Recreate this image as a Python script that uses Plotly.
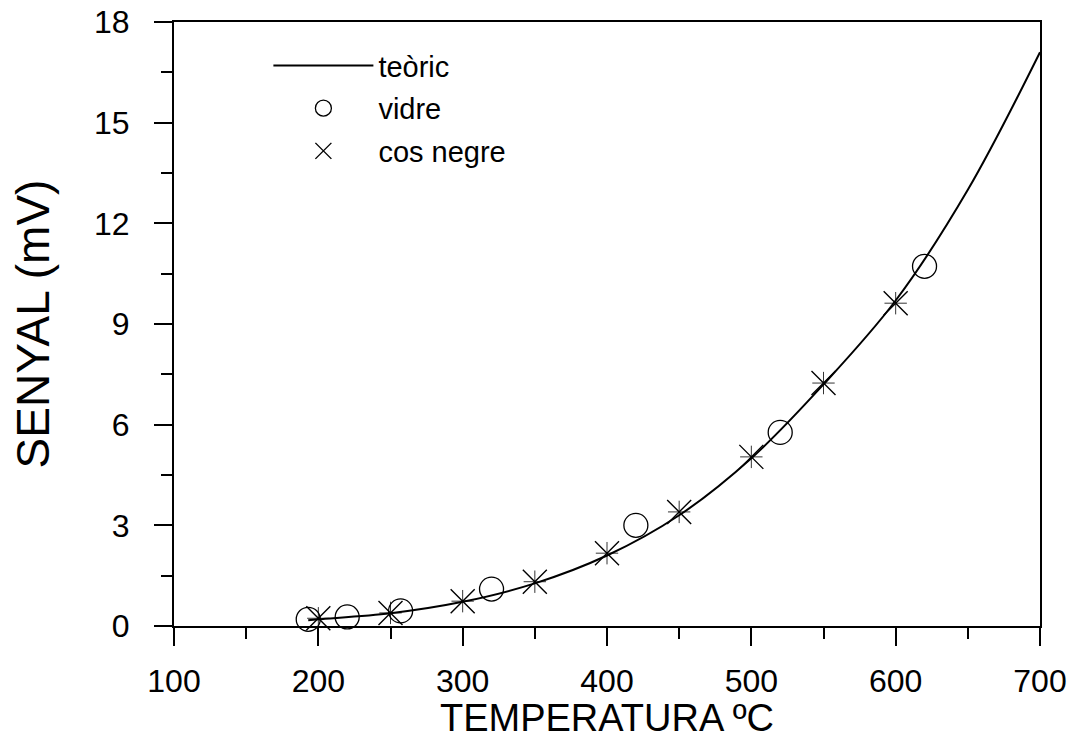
import plotly.graph_objects as go

# Theoretical curve
teoric_T = [193, 200, 250, 300, 350, 400, 450, 500, 550, 600, 650, 700]
teoric_V = [0.17, 0.2, 0.38, 0.72, 1.27, 2.1, 3.3, 5.0, 7.2, 9.7, 13.0, 17.1]

# Glass (vidre) measurements
vidre_T = [193, 220, 257, 320, 420, 520, 620]
vidre_V = [0.2, 0.27, 0.45, 1.1, 3.0, 5.77, 10.72]

# Black body (cos negre) measurements
negre_T = [200, 250, 300, 350, 400, 450, 500, 550, 600]
negre_V = [0.23, 0.39, 0.74, 1.32, 2.17, 3.4, 5.04, 7.24, 9.62]

x_ticks = [100, 200, 300, 400, 500, 600, 700]
y_ticks = [0, 3, 6, 9, 12, 15, 18]

FONT = "Liberation Sans, Arial, sans-serif"

fig = go.Figure()
fig.add_trace(go.Scatter(
    x=teoric_T, y=teoric_V, mode="lines", name="teòric",
    line=dict(color="black", width=2, shape="spline"),
    legendgroup="a",
))
fig.add_trace(go.Scatter(
    x=vidre_T, y=vidre_V, mode="markers", name="vidre",
    marker=dict(symbol="circle-open", size=24, color="black",
                line=dict(color="black", width=1.3)),
    cliponaxis=False, legendgroup="b",
))
fig.add_trace(go.Scatter(
    x=negre_T, y=negre_V, mode="markers", name="cos negre",
    marker=dict(symbol="x-thin-open", size=24, color="black",
                line=dict(color="black", width=1.4)),
    cliponaxis=False, legendgroup="c",
))
fig.add_trace(go.Scatter(
    x=negre_T, y=negre_V, mode="markers", name="cos negre",
    marker=dict(symbol="cross-thin-open", size=16, color="black",
                line=dict(color="black", width=0.8)),
    cliponaxis=False, showlegend=False, legendgroup="c",
))

axis_common = dict(
    showgrid=False, zeroline=False, showline=True, linecolor="black",
    linewidth=2, mirror=True, ticks="outside", ticklen=18, tickwidth=2,
    tickcolor="black", automargin=False, ticklabeloverflow="allow",
    tickfont=dict(family=FONT, size=32, color="black"),
)

fig.update_layout(
    width=1072, height=739,
    margin=dict(l=174, r=32, t=22, b=113),
    paper_bgcolor="white", plot_bgcolor="white",
    showlegend=True,
    legend=dict(
        x=0.109, y=0.970, xanchor="left", yanchor="top",
        bgcolor="rgba(0,0,0,0)", borderwidth=0,
        font=dict(family=FONT, size=29, color="black"),
        itemwidth=100, tracegroupgap=2,
    ),
    xaxis=dict(
        range=[100, 700], tickvals=x_ticks, ticktext=[str(v) for v in x_ticks],
        minor=dict(dtick=50, ticks="outside", ticklen=11, tickwidth=2, tickcolor="black"),
        title=dict(text="TEMPERATURA ºC", font=dict(family=FONT, size=38, color="black"),
                   standoff=8),
        ticklabelstandoff=8,
        **axis_common,
    ),
    yaxis=dict(
        range=[0, 18], tickvals=y_ticks, ticktext=[str(v) for v in y_ticks],
        minor=dict(dtick=1.5, ticks="outside", ticklen=11, tickwidth=2, tickcolor="black"),
        title=dict(text="SENYAL (mV)", font=dict(family=FONT, size=46, color="black"),
                   standoff=30),
        ticklabelstandoff=18,
        **axis_common,
    ),
)

# remove the default 8px page margin so the figure fills the window exactly
fig.write_html("out.html", config={"displayModeBar": False},
               post_script="document.body.style.margin='0';")
